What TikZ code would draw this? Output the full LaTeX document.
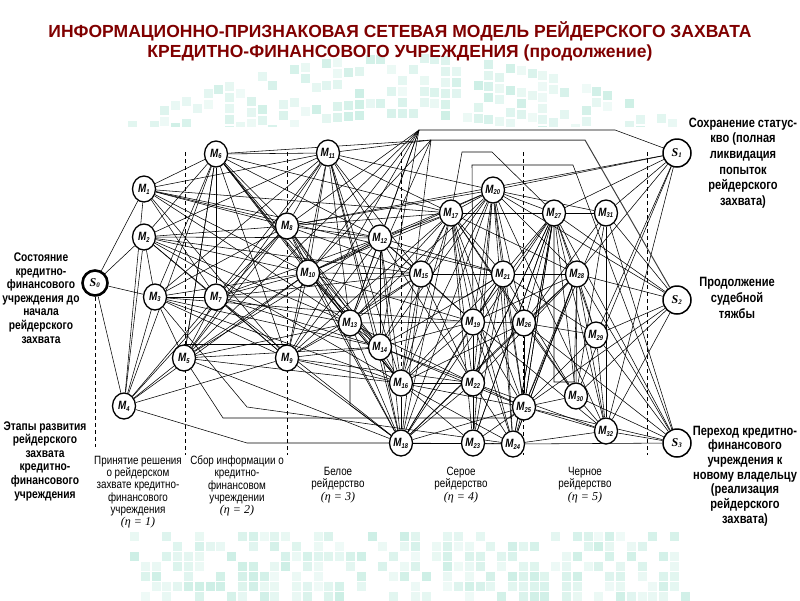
\documentclass[tikz,border=0pt]{standalone}
\usepackage{fontspec}
\setmainfont{Liberation Sans}
\newfontfamily\narrowfont[FakeStretch=0.82]{Liberation Sans}
\newfontfamily\serifnode{Liberation Serif}
\usetikzlibrary{shapes.geometric,backgrounds}

\definecolor{titlered}{RGB}{128,0,0}
\definecolor{wmteal}{RGB}{100,205,175}
\newcommand{\Mlab}[1]{M\textsubscript{\fontsize{7}{7}\selectfont#1}}
\newcommand{\Slab}[1]{S\textsubscript{\fontsize{7}{7}\selectfont#1}}
\newcommand{\etalab}[1]{{\serifnode\itshape(η = #1)}}

\tikzset{
  mnode/.style={ellipse, draw, line width=1.3pt, fill=white, minimum width=23pt,
    minimum height=26pt, inner sep=0pt, font=\narrowfont\bfseries\itshape\fontsize{12}{12}\selectfont},
  snode/.style={circle, draw, line width=1.5pt, fill=white, minimum size=28pt,
    inner sep=0pt, font=\serifnode\bfseries\itshape\fontsize{12}{12}\selectfont},
  link/.style={line width=0.55pt},
  stageline/.style={line width=0.9pt, dash pattern=on 4pt off 3pt},
  sidelabel/.style={align=center, font=\narrowfont\bfseries\fontsize{12.5}{13.6}\selectfont},
  stagelabel/.style={align=center, font=\narrowfont\fontsize{12}{12.3}\selectfont}
}

\begin{document}
\begin{tikzpicture}[x=1pt, y=-1pt]
    \useasboundingbox (0,0) rectangle (800,600);

    % Title
    \node[font=\bfseries\fontsize{17.5}{20}\selectfont, text=titlered, align=center] (title) at (400,41)
        {ИНФОРМАЦИОННО-ПРИЗНАКОВАЯ СЕТЕВАЯ МОДЕЛЬ РЕЙДЕРСКОГО ЗАХВАТА\\
         КРЕДИТНО-ФИНАНСОВОГО УЧРЕЖДЕНИЯ (продолжение)};

    % States and transition nodes
    \node[snode, line width=2.6pt, minimum size=25pt] (S0) at (95,283) {\Slab{0}};
    \foreach \n/\x/\y in {1/677/153, 2/677/300, 3/677/443}
        \node[snode] (S\n) at (\x,\y) {\Slab{\n}};
    \foreach \n/\x/\y in {
        1/144/189, 2/144/237, 3/155/297, 4/124/406, 5/184/358, 6/216/154,
        7/216/297, 8/287/226, 9/287/358, 10/308/273, 11/328/153, 12/380/238,
        13/350/323, 14/380/347, 15/421/274, 16/401/383, 17/451/213, 18/401/443,
        19/473/322, 20/493/190, 21/503/274, 22/473/383, 23/473/443, 24/513/444,
        25/524/407, 26/524/323, 27/554/213, 28/577/274, 29/596/335, 30/576/396,
        31/606/213, 32/606/431}
        \node[mnode] (M\n) at (\x,\y) {\Mlab{\n}};
    \coordinate (hubA) at (419,130);
    \coordinate (hubB) at (431,140);

    \begin{scope}[on background layer]
    % Faint watermark behind the slide
    \pgfmathsetseed{11}
    \foreach \i in {0,...,50}
        \foreach \r in {0,1,2,3,4,5} {
            \pgfmathsetmacro{\wx}{128+\i*10.8}
            \pgfmathsetmacro{\wy}{54+\r*11+0.09*((\wx-400)/10)^2}
            \pgfmathsetmacro{\wo}{rnd}
            \ifdim\wo pt>0.45pt
                \pgfmathsetmacro{\wop}{0.1+0.4*(\wo-0.45)}
                \fill[wmteal, opacity=\wop] (\wx,\wy) rectangle ++(9,9);
            \fi
        }
    \foreach \i in {0,...,51}
        \foreach \r in {0,...,6} {
            \pgfmathsetmacro{\wx}{130+\i*10.8}
            \pgfmathsetmacro{\wy}{532+\r*10}
            \pgfmathsetmacro{\wo}{rnd}
            \ifdim\wo pt>0.45pt
                \pgfmathsetmacro{\wop}{0.1+0.4*(\wo-0.45)}
                \fill[wmteal, opacity=\wop] (\wx,\wy) rectangle ++(9,9);
            \fi
        }
    \fill[white] (86,127) rectangle (694,530);

    % Stage borders
    \draw[stageline] (S0) -- (95,447);
    \foreach \x in {185,287,401,523,647}
        \draw[stageline] (\x,152) -- (\x,455);

    % Connections between nodes
    \foreach \a/\bs in {
        S0/{M1,M2,M3,M4},
        M1/{M6,M8,M11,M12,M17,M10,M9,M13,M7,M21},
        M2/{M6,M8,M11,M7,M10,M12,M9,M13,M16,M3,M15},
        M3/{M6,M8,M7,M5,M9,M10,M11,M14,M19,M16},
        M4/{M1,M2,M3,M5,M6,M8,M9,M10,M7},
        M6/{M11,M8,M12,M10,M13,M16,M17,M5,M9,M14},
        M7/{M11,M8,M10,M12,M9,M13,M14,M15,M5,M6,M18},
        M5/{M6,M8,M11,M10,M13,M16,M18,M14,M12},
        M8/{M11,M12,M10,M13,M14,M16,M17,M20,M15,M18,S1},
        M9/{M11,M10,M12,M15,M16,M18,M17,M14,M22,M13},
        M10/{M11,M12,M13,M14,M15,M16,M18,M17,M20,M19},
        M11/{M12,M13,M14,M16,M18,M17,M20,M15},
        M12/{M13,M14,M16,M18,M17,M20,M15,M19,M21,M22},
        M13/{M14,M16,M18,M19,M17,M20,M22,M15},
        M14/{M16,M18,M17,M19,M20,M21,M22,M25},
        M15/{M16,M18,M17,M19,M20,M21,M22},
        M16/{M18,M17,M19,M20,M22,M23,M25,M21,M26,M24},
        M18/{M17,M19,M20,M22,M23,M21,M24,M25,M26,M27,M28},
        M17/{M20,M19,M21,M22,M25,M26,M27,M28,M23,M24,M31,M30},
        M20/{M19,M21,M22,M25,M26,M27,M28,M31,M23,M24,S1,S2,M32},
        M19/{M21,M22,M23,M25,M27,M28,M26,M32,M24},
        M21/{M22,M25,M27,M28,M30,M23,M24,M29},
        M22/{M23,M25,M24,M27,M28,M32},
        M23/{M24,M25,M27},
        M24/{M25,M32,M28,M27,S3},
        M25/{M27,M28,M29,M30,M32,M31,S2,S3},
        M26/{M25,M27,M28,M29,M30,M31,S3},
        M27/{M31,M28,M29,M30,M32,S1,S2,S3,M22,M23,M24,M25},
        M28/{M29,M30,M32,S1,S2,S3,M24},
        M29/{S1,S2,S3,M32},
        M30/{S1,S2,S3,M32},
        M31/{S1,S2,S3,M32,M30},
        M32/{S1,S2,S3}}
        \foreach \b in \bs
            \draw[link] (\a) -- (\b);

    % Connections gathered at the top
    \foreach \a in {M5,M8,M10,M12,M13,M14,M9}
        \draw[link] (\a) -- (hubA);
    \draw[link] (hubA) -- (615,130) -- (S1);
    \foreach \a in {M6,M11,M10,M16,M13}
        \draw[link] (\a) -- (hubB);
    \draw[link, line width=1pt, black!75] (hubB) -- (585,140) -- (S2);

    % Broken connections
    \draw[link] (M17) -- (462,152) -- (492,152) -- (M27);
    \draw[link] (M19) -- (472,165) -- (573,165) -- (S3);
    \draw[link] (M4) -- (247,443) -- (M18);
    \draw[link] (M5) -- (223,418) -- (510,418) -- (M25);
    \draw[link] (M3) -- (247,407) -- (M24);
    \draw[link] (M5.north) -- (M9.north);
    \draw[link] (M7) -- (465,297) -- (M21);
    \draw[link] (M13) -- (350,405) -- (M18);
    \draw[link] (M27) -- (554,382) -- (574,382) -- (M28);
    \end{scope}

    % Side labels
    \node[sidelabel] (s0text) at (41,298) {Состояние\\кредитно-\\финансового\\учреждения до\\начала\\рейдерского\\захвата};
    \node[sidelabel] (stagetext) at (45,461) {Этапы развития\\рейдерского\\захвата\\кредитно-\\финансового\\учреждения};
    \node[sidelabel, font=\narrowfont\bfseries\fontsize{13.5}{15.6}\selectfont] (s1text) at (743,163)
        {Сохранение статус-\\кво (полная\\ликвидация\\попыток\\рейдерского\\захвата)};
    \node[sidelabel, font=\narrowfont\bfseries\fontsize{13.5}{15.6}\selectfont] (s2text) at (737,298)
        {Продолжение\\судебной\\тяжбы};
    \node[sidelabel, font=\narrowfont\bfseries\fontsize{13.5}{14.7}\selectfont] (s3text) at (745,476)
        {Переход кредитно-\\финансового\\учреждения к\\новому владельцу\\(реализация\\рейдерского\\захвата)};

    % Stage captions
    \node[stagelabel] (eta1) at (138,492) {Принятие решения\\о рейдерском\\захвате кредитно-\\финансового\\учреждения\\\etalab{1}};
    \node[stagelabel] (eta2) at (237,486) {Сбор информации о\\кредитно-\\финансовом\\учреждении\\\etalab{2}};
    \node[stagelabel] (eta3) at (338,485) {Белое\\рейдерство\\\etalab{3}};
    \node[stagelabel] (eta4) at (461,485) {Серое\\рейдерство\\\etalab{4}};
    \node[stagelabel] (eta5) at (585,485) {Черное\\рейдерство\\\etalab{5}};
\end{tikzpicture}
\end{document}
